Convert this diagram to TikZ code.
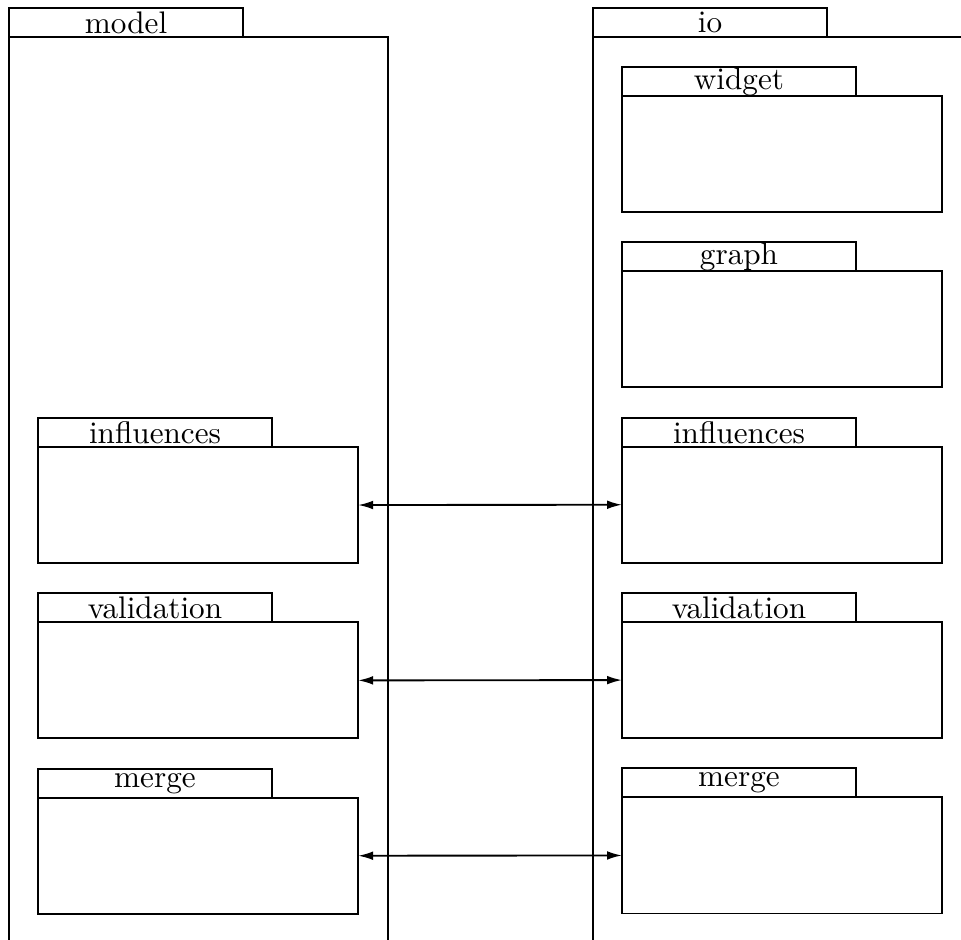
\documentclass[tikz,border=0pt]{standalone}
\usetikzlibrary{arrows.meta, positioning}

\begin{document}
\begin{tikzpicture}[
    x=0.3205pt, y=-0.3205pt,
    outer/.style={draw, semithick, minimum width=121.5pt, minimum height=300pt,
                  inner sep=0pt, outer sep=0pt},
    pkg/.style={draw, semithick, minimum width=102.6pt, minimum height=37.2pt,
                inner sep=0pt, outer sep=0pt},
    tab/.style={draw, semithick, minimum width=75pt, minimum height=9.3pt,
                inner sep=0pt, outer sep=0pt},
    link/.style={semithick, {Latex[length=4.8pt,width=2.8pt]}-{Latex[length=4.8pt,width=2.8pt]}}
  ]
  \clip (0,0) rectangle (961,940);

  % outer packages, running off the bottom
  \node[outer, anchor=north west] (model) at (9,37) {};
  \node[tab, above right=0pt of model.north west] (modelTab) {model};
  \node[outer, anchor=north west] (io) at (593,37) {};
  \node[tab, above right=0pt of io.north west] (ioTab) {io};

  % model side
  \node[pkg, anchor=north west] (mInfl) at (38,447) {};
  \node[tab, above right=0pt of mInfl.north west] {influences};
  \node[pkg, below=19pt of mInfl] (mValid) {};
  \node[tab, above right=0pt of mValid.north west] {validation};
  \node[pkg, below=19pt of mValid] (mMerge) {};
  \node[tab, above right=0pt of mMerge.north west] {merge};

  % io side
  \node[pkg, anchor=north west] (iWidget) at (622,96) {};
  \node[tab, above right=0pt of iWidget.north west] {widget};
  \node[pkg, below=19pt of iWidget] (iGraph) {};
  \node[tab, above right=0pt of iGraph.north west] {graph};
  \node[pkg, below=19pt of iGraph] (iInfl) {};
  \node[tab, above right=0pt of iInfl.north west] {influences};
  \node[pkg, below=19pt of iInfl] (iValid) {};
  \node[tab, above right=0pt of iValid.north west] {validation};
  \node[pkg, below=19pt of iValid] (iMerge) {};
  \node[tab, above right=0pt of iMerge.north west] {merge};

  \draw[link] (mInfl.east) -- (iInfl.west);
  \draw[link] (mValid.east) -- (iValid.west);
  \draw[link] (mMerge.east) -- (iMerge.west);
\end{tikzpicture}
\end{document}
